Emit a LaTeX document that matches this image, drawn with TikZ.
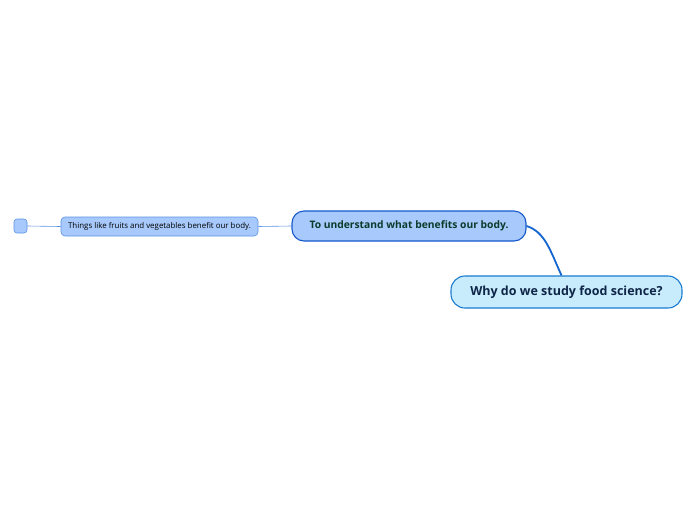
\documentclass[tikz,border=0pt]{standalone}
\usepackage{fontspec}
\setmainfont{Open Sans}
\definecolor{rootline}{HTML}{1A7BD0}
\definecolor{rootfill}{HTML}{C8ECFC}
\definecolor{rootText}{HTML}{0E2547}
\definecolor{mainline}{HTML}{1558CC}
\definecolor{mainfill}{HTML}{A7C9FB}
\definecolor{mainText}{HTML}{0B3B2A}
\definecolor{subline}{HTML}{5B93E6}
\definecolor{rootlink}{HTML}{1565D0}
\begin{document}
\begin{tikzpicture}[x=1pt,y=-1pt,
  rootbox/.style={draw=rootline,fill=rootfill,line width=1.1pt,rounded corners=14pt,minimum width=231pt,minimum height=32pt,inner sep=0pt,text=rootText,font=\fontsize{12.5}{14}\selectfont\bfseries},
  mainbox/.style={draw=mainline,fill=mainfill,line width=1.1pt,rounded corners=12pt,minimum width=234pt,minimum height=30pt,inner sep=0pt,text=mainText,font=\fontsize{10.3}{12}\selectfont\bfseries},
  subbox/.style={draw=subline,fill=mainfill,line width=0.6pt,rounded corners=4pt,minimum width=197pt,minimum height=19pt,inner sep=0pt,text=black,font=\fontsize{7.9}{9}\selectfont},
  leafbox/.style={draw=subline,fill=mainfill,line width=0.6pt,rounded corners=3pt,minimum width=13pt,minimum height=14pt,inner sep=0pt},
  thinlink/.style={draw=subline,line width=0.6pt},
  rootlinkstyle/.style={draw=rootlink,line width=1.8pt}]
\useasboundingbox (0,0) rectangle (696,520);
\node[rootbox] (root) at (566.5,292) {Why do we study food science?};
\node[mainbox] (main) at (409,226) {\raisebox{-1pt}{To understand what benefits our body.}};
\node[subbox] (sub) at (159.5,226.5) {Things like fruits and vegetables benefit our body.};
\node[leafbox] (leaf) at (20.5,226) {};
\coordinate (rt) at ([xshift=-5pt]root.north);
\draw[rootlinkstyle] (rt) .. controls (550,250) and (545,232) .. (main.east);
\draw[thinlink] (main.west) -- (sub.east);
\draw[thinlink] (sub.west) -- (leaf.east);
\end{tikzpicture}
\end{document}
